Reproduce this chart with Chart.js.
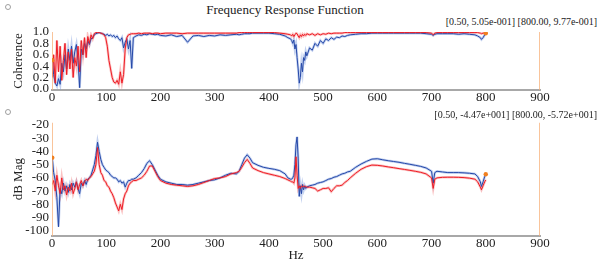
<!DOCTYPE html>
<html>
<head>
<meta charset="utf-8">
<script src="https://cdn.jsdelivr.net/npm/chart.js@4.4.0/dist/chart.umd.min.js"></script>
<style>
  body { margin: 0; background: #fff; font-family: "Liberation Serif", "Times New Roman", serif; }
  #wrap { position: relative; width: 600px; height: 265px; overflow: hidden; }
  canvas { position: absolute; left: 0; }
  .txt { position: absolute; color: #222; white-space: nowrap; line-height: 1.2; }
  .gear { position: absolute; width: 4px; height: 4px; border: 1.5px solid #a0a0a0; border-radius: 50%; }
</style>
</head>
<body>
<div id="wrap">
  <div class="gear" style="left:5px;top:4px"></div>
  <div class="txt" style="left:0;width:570px;top:2px;text-align:center;font-size:13px">Frequency Response Function</div>
  <div class="txt" id="ann1" style="right:3px;top:16px;font-size:10px"></div>
  <canvas id="cohChart" width="600" height="106" style="top:0"></canvas>
  <div class="gear" style="left:5px;top:109px"></div>
  <div class="txt" id="ann2" style="right:3px;top:109px;font-size:10px"></div>
  <canvas id="magChart" width="600" height="160" style="top:105px"></canvas>
</div>
<script>
// frequency axis (Hz), shared by all traces
var freq = [
  0.5, 3, 6, 9, 12, 15, 18, 21, 24, 27, 30, 33, 36, 39, 42, 45, 48, 51, 54, 57,
  60, 63, 66, 69, 72, 75, 78, 81, 84, 87, 90, 93, 96, 99, 102, 105, 108, 111, 114, 117,
  120, 123, 126, 129, 132, 135, 138, 141, 144, 147, 150,
  155, 160, 165, 170, 175, 180, 185, 190, 195, 200, 210, 220, 230, 240, 250, 260, 270, 280, 290, 300,
  310, 320, 330, 340, 345, 350, 355, 360, 365, 370, 380, 390, 400, 410, 420, 430, 435, 440,
  442, 444, 446, 448, 450, 452, 454, 456, 458, 460, 462, 464, 466, 468, 470,
  475, 480, 485, 490, 495, 500, 505, 510, 515, 520, 525, 530, 535, 540, 545, 550, 560, 570, 580, 590,
  600, 610, 620, 630, 640, 650, 660, 670, 680, 690, 700, 703, 706, 710, 720, 730, 740, 750, 760, 770,
  780, 785, 790, 792, 795, 798, 800
];

// coherence, blue trace
var cohBlue = [
  0.505, 0.25, 0.1, 0.05, 0.18, 0.08, 0.45, 0.3, 0.6, 0.35, 0.7, 0.5, 0.75, 0.45, 0.65, 0.78, 0.5, 0.02, 0.7, 0.6,
  0.8, 0.7, 0.85, 0.78, 0.88, 0.9, 0.95, 0.97, 0.98, 0.99, 0.98, 0.97, 0.96, 0.94, 0.96, 0.93, 0.95, 0.92, 0.94, 0.9,
  0.93, 0.88, 0.85, 0.9, 0.72, 0.82, 0.88, 0.7, 0.85, 0.36, 0.9,
  0.93, 0.95, 0.94, 0.96, 0.95, 0.97, 0.96, 0.95, 0.96, 0.94, 0.93, 0.95, 0.92, 0.94, 0.82, 0.93, 0.94, 0.92, 0.94, 0.93,
  0.95, 0.94, 0.95, 0.96, 0.95, 0.96, 0.97, 0.97, 0.97, 0.98, 0.98, 0.98, 0.98, 0.97, 0.96, 0.93, 0.9, 0.88,
  0.85, 0.8, 0.86, 0.7, 0.78, 0.55, 0.35, 0.1, 0.2, 0.45, 0.3, 0.55, 0.5, 0.65, 0.58,
  0.72, 0.68, 0.8, 0.75, 0.85, 0.8, 0.88, 0.85, 0.9, 0.87, 0.91, 0.9, 0.93, 0.92, 0.94, 0.95, 0.96, 0.97, 0.97, 0.98,
  0.98, 0.98, 0.98, 0.98, 0.98, 0.98, 0.98, 0.98, 0.98, 0.97, 0.96, 0.94, 0.96, 0.97, 0.97, 0.97, 0.97, 0.96, 0.97, 0.96,
  0.95, 0.93, 0.9, 0.87, 0.9, 0.95, 0.977
];

// coherence, red trace
var cohRed = [
  0.2, 0.6, 0.1, 0.85, 0.3, 0.75, 0.15, 0.5, 0.8, 0.25, 0.65, 0.35, 0.7, 0.2, 0.55, 0.4, 0.75, 0.3, 0.85, 0.6,
  0.9, 0.55, 0.92, 0.8, 0.95, 0.88, 0.97, 0.99, 0.99, 0.99, 0.98, 0.97, 0.95, 0.9, 0.75, 0.5, 0.35, 0.2, 0.12, 0.1,
  0.15, 0.08, 0.3, 0.1, 0.25, 0.7, 0.9, 0.95, 0.96, 0.97, 0.97,
  0.97, 0.98, 0.97, 0.98, 0.98, 0.98, 0.97, 0.98, 0.98, 0.97, 0.98, 0.98, 0.98, 0.97, 0.98, 0.98, 0.98, 0.98, 0.98, 0.98,
  0.98, 0.98, 0.98, 0.98, 0.99, 0.99, 0.99, 0.99, 0.99, 0.99, 0.99, 0.99, 0.99, 0.99, 0.98, 0.97, 0.96, 0.95,
  0.93, 0.96, 0.92, 0.95, 0.98, 0.97, 0.93, 0.9, 0.95, 0.92, 0.96, 0.93, 0.96, 0.94, 0.97,
  0.95, 0.97, 0.94, 0.97, 0.95, 0.97, 0.96, 0.98, 0.97, 0.98, 0.98, 0.98, 0.98, 0.99, 0.99, 0.99, 0.99, 0.99, 0.99, 0.99,
  0.99, 0.99, 0.99, 0.99, 0.99, 0.99, 0.99, 0.99, 0.99, 0.99, 0.98, 0.95, 0.98, 0.99, 0.99, 0.99, 0.99, 0.99, 0.99, 0.99,
  0.99, 0.99, 0.98, 0.97, 0.98, 0.98, 0.98
];

// magnitude (dB), blue trace
var magBlue = [
  -44.7, -56, -62, -75, -97, -68, -72, -64, -70, -66, -71, -65, -69, -64, -67, -63, -68, -72, -64, -66,
  -62, -65, -61, -60, -58, -54, -50, -43, -33, -40, -46, -50, -52, -54, -55, -56, -58, -59, -60, -60,
  -61, -63, -62, -64, -63, -67, -64, -62, -62, -61, -61,
  -60, -58, -56, -53, -49, -47, -50, -54, -58, -61, -63, -64, -65, -65, -65.5, -65, -64, -63, -62, -61.5,
  -60, -58, -56.5, -57, -55, -50, -45, -42.5, -45, -48.5, -50.5, -52, -52.8, -53.5, -54.5, -57, -60, -61,
  -61, -60, -58, -50, -35, -29, -45, -74, -66, -72, -65, -69, -66, -68, -67,
  -66, -65.5, -65, -64, -63.5, -63, -62, -61, -60.5, -59.5, -59, -58, -57, -56.5, -55.5, -55, -52, -49.5, -47.5, -45.8,
  -45.5, -46.3, -47, -47.6, -48.2, -49, -49.7, -50.5, -51.3, -52.5, -55, -64, -56, -55, -55.5, -56, -56, -56, -56.2, -56.5,
  -57, -59, -63, -66.5, -63, -59, -57.2
];

// magnitude (dB), red trace
var magRed = [
  -65, -62, -70, -58, -66, -72, -60, -69, -66, -73, -67, -70, -64, -72, -68, -63, -69, -65, -62, -66,
  -63, -61, -62, -60, -59, -57, -55, -50, -37, -50, -56, -58, -62, -63, -66, -67, -70, -72, -75, -79,
  -82, -85, -80, -84, -76, -72, -70, -66, -64, -63, -62,
  -62, -61, -60, -58, -55, -51, -51, -55, -59, -62, -64, -65, -65.5, -66, -66.5, -66, -65, -63.5, -62, -60.5,
  -60, -59, -57, -56, -55, -52, -48.5, -46, -49, -52.5, -54.5, -56, -57, -58, -59, -60.5, -61.5, -62.5,
  -63, -63, -64, -60, -44, -58, -68, -66, -68, -66, -67, -66, -67, -66.5, -67,
  -67, -67.5, -68, -70, -69, -68, -68, -67.5, -70.5, -68, -66, -66, -65.5, -63.5, -62, -60, -56.5, -53.5, -51.5, -50.3,
  -50.5, -51, -51.7, -52.3, -53, -53.6, -54.3, -55, -55.8, -57, -60, -68, -61, -60, -59.6, -59.5, -59.5, -59.6, -59.8, -60.2,
  -61, -63, -67, -69, -66, -63, -61.5
];

// cursors
var cursorLines = [0, 900];
var cursorFreq = [0.5, 800];
var cursorCoh = [0.505, 0.977];
var cursorMag = [-44.7, -57.2];

// tick labels
var xTicks = [0, 100, 200, 300, 400, 500, 600, 700, 800, 900];
var cohTicks = [0, 0.2, 0.4, 0.6, 0.8, 1.0];
var magTicks = [-20, -30, -40, -50, -60, -70, -80, -90, -100];

var SERIF = '"Liberation Serif", "Times New Roman", serif';
Chart.defaults.font.family = SERIF;
Chart.defaults.color = '#222';

function fmtExp(v) {
  var parts = v.toExponential(2).split('e');
  var sign = parts[1].charAt(0) === '-' ? '-' : '+';
  var digits = parts[1].replace(/[+-]/, '');
  while (digits.length < 3) digits = '0' + digits;
  return parts[0] + 'e' + sign + digits;
}
function cursorText(ys) {
  return '[' + cursorFreq[0].toFixed(2) + ', ' + fmtExp(ys[0]) + '] [' +
    cursorFreq[1].toFixed(2) + ', ' + fmtExp(ys[1]) + ']';
}
document.getElementById('ann1').textContent = cursorText(cursorCoh);
document.getElementById('ann2').textContent = cursorText(cursorMag);

function trace(arr, color, width, order) {
  return {
    data: freq.map(function (f, i) { return { x: f, y: arr[i] }; }),
    borderColor: color, borderWidth: width, pointRadius: 0, tension: 0, fill: false, order: order
  };
}

function buildSets(blue, red, ymin, ymax, cursorY) {
  var sets = [
    trace(red, '#ee1c25', 1, 0),
    trace(blue, '#2548a8', 1, 1),
    trace(red, 'rgba(245,120,120,0.45)', 2.5, 2),
    trace(blue, 'rgba(120,150,220,0.45)', 2.5, 3)
  ];
  cursorLines.forEach(function (c) {
    sets.push({ data: [{ x: c, y: ymin }, { x: c, y: ymax }], borderColor: '#f7b07a', borderWidth: 1.5,
      pointRadius: 0, order: -1 });
  });
  sets.push({ data: cursorFreq.map(function (f, i) { return { x: f, y: cursorY[i] }; }), showLine: false,
    pointRadius: 2.2, pointBackgroundColor: '#f08020', pointBorderWidth: 0, order: -2 });
  return sets;
}

function makeChart(id, sets, pad, xHeight, xTitle, y) {
  return new Chart(document.getElementById(id).getContext('2d'), {
    type: 'line',
    data: { datasets: sets },
    options: {
      responsive: false,
      animation: false,
      events: [],
      layout: { padding: pad },
      plugins: { legend: { display: false }, tooltip: { enabled: false } },
      scales: {
        x: {
          type: 'linear', min: 0, max: 900,
          afterBuildTicks: function (s) { s.ticks = xTicks.map(function (v) { return { value: v }; }); },
          afterFit: function (s) { s.height = xHeight; },
          grid: { display: false, drawTicks: false },
          border: { display: true, color: '#a8a8a8', width: 2 },
          ticks: { font: { family: SERIF, size: 13 }, padding: 0, maxRotation: 0, autoSkip: false },
          title: { display: !!xTitle, text: xTitle || '', font: { family: SERIF, size: 13 }, padding: { top: 0, bottom: 2 } }
        },
        y: {
          min: y.min, max: y.max,
          afterBuildTicks: function (s) { s.ticks = y.ticks.map(function (v) { return { value: v }; }); },
          afterFit: function (s) { s.width = 52; },
          grid: { display: false, drawTicks: false },
          border: { display: false },
          ticks: { font: { family: SERIF, size: 13 }, padding: 3, autoSkip: false, callback: y.fmt },
          title: { display: true, text: y.title, font: { family: SERIF, size: 13 }, padding: { top: 11, bottom: 0 } }
        }
      }
    }
  });
}

makeChart('cohChart', buildSets(cohBlue, cohRed, -0.02, 1.0, cursorCoh),
  { left: 0, right: 60, top: 32, bottom: 0 }, 16, null,
  { min: -0.02, max: 1.0, ticks: cohTicks, title: 'Coherence', fmt: function (v) { return v.toFixed(1); } });

makeChart('magChart', buildSets(magBlue, magRed, -104, -18, cursorMag),
  { left: 0, right: 60, top: 17.4, bottom: 0 }, 29, 'Hz',
  { min: -104, max: -18, ticks: magTicks, title: 'dB Mag', fmt: function (v) { return String(v); } });
</script>
</body>
</html>
